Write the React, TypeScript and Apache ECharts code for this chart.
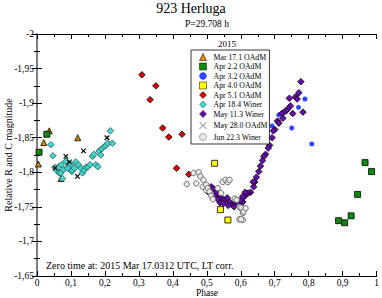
import React, { useEffect, useRef } from "react";
import * as echarts from "echarts";

const mar17 = [[0.004,-1.812],[0.02,-1.843],[0.036,-1.86],[0.12,-1.85],[0.071,-1.791],[0.089,-1.808]];
const apr2 = [[0.029,-1.855],[0.006,-1.829],[0.966,-1.814],[0.985,-1.801],[0.944,-1.768],[0.925,-1.737],[0.906,-1.727],[0.888,-1.73]];
const apr3 = [[0.789,-1.906],[0.77,-1.894],[0.712,-1.883],[0.692,-1.867],[0.75,-1.864],[0.809,-1.841]];
const apr4 = [[0.523,-1.813],[0.54,-1.746],[0.562,-1.731]];
const apr5 = [[0.309,-1.941],[0.35,-1.925],[0.333,-1.905],[0.37,-1.864],[0.388,-1.851],[0.427,-1.855],[0.411,-1.806],[0.447,-1.797]];
const apr18 = [[0.041,-1.84],[0.047,-1.824],[0.053,-1.807],[0.058,-1.803],[0.063,-1.808],[0.065,-1.799],[0.07,-1.799],[0.072,-1.811],[0.075,-1.791],[0.079,-1.804],[0.085,-1.816],[0.09,-1.806],[0.099,-1.812],[0.102,-1.801],[0.104,-1.803],[0.11,-1.806],[0.114,-1.815],[0.122,-1.811],[0.129,-1.806],[0.134,-1.799],[0.139,-1.803],[0.144,-1.807],[0.15,-1.808],[0.156,-1.811],[0.163,-1.823],[0.168,-1.826],[0.173,-1.811],[0.179,-1.808],[0.183,-1.831],[0.188,-1.825],[0.191,-1.834],[0.198,-1.837],[0.203,-1.839],[0.208,-1.842],[0.216,-1.86],[0.222,-1.842]];
const may11 = [[0.777,-1.931],[0.771,-1.915],[0.761,-1.909],[0.766,-1.906],[0.783,-1.887],[0.743,-1.907],[0.746,-1.896],[0.753,-1.885],[0.739,-1.892],[0.734,-1.889],[0.727,-1.887],[0.721,-1.885],[0.724,-1.878],[0.708,-1.874],[0.712,-1.871],[0.7,-1.862],[0.696,-1.86],[0.692,-1.85],[0.685,-1.839],[0.681,-1.835],[0.673,-1.826],[0.668,-1.823],[0.664,-1.817],[0.658,-1.809],[0.653,-1.801],[0.646,-1.793],[0.641,-1.786],[0.636,-1.786],[0.638,-1.779],[0.629,-1.771],[0.622,-1.77],[0.616,-1.769],[0.611,-1.765],[0.606,-1.757],[0.599,-1.751],[0.503,-1.772],[0.513,-1.779],[0.52,-1.776],[0.529,-1.77],[0.537,-1.766],[0.545,-1.762],[0.553,-1.76],[0.56,-1.763],[0.567,-1.757],[0.575,-1.753],[0.583,-1.754],[0.591,-1.754],[0.6,-1.76],[0.606,-1.765],[0.613,-1.771],[0.524,-1.765],[0.532,-1.761],[0.539,-1.756],[0.549,-1.755],[0.563,-1.752],[0.58,-1.75]];
const may28 = [[0.053,-1.806],[0.085,-1.823],[0.095,-1.815],[0.119,-1.794],[0.137,-1.831],[0.206,-1.85]];
const jun22 = [[0.441,-1.783],[0.461,-1.799],[0.476,-1.8],[0.481,-1.794],[0.469,-1.784],[0.49,-1.789],[0.488,-1.779],[0.498,-1.782],[0.498,-1.774],[0.503,-1.777],[0.508,-1.772],[0.513,-1.766],[0.518,-1.761],[0.532,-1.777],[0.542,-1.77],[0.547,-1.786],[0.555,-1.789],[0.562,-1.786],[0.567,-1.789],[0.582,-1.762],[0.588,-1.76],[0.596,-1.75],[0.604,-1.746],[0.606,-1.741],[0.596,-1.732],[0.606,-1.731],[0.601,-1.749],[0.608,-1.743],[0.601,-1.732],[0.614,-1.748]];

const xTicks = [0, 0.1, 0.2, 0.3, 0.4, 0.5, 0.6, 0.7, 0.8, 0.9, 1];
const yTicks = [-2, -1.95, -1.9, -1.85, -1.8, -1.75, -1.7, -1.65];

const FONT = "Liberation Serif";
const fmt = (v: number) => String(parseFloat(v.toFixed(3))).replace(".", ",");

export default function App() {
  const ref = useRef<HTMLDivElement>(null);
  useEffect(() => {
    const chart = echarts.init(ref.current!, null, { renderer: "svg" });
    const mk = (name: string, data: number[][], symbol: string, size: number, color: string, border: string, bw = 0.8) => ({
      name, type: "scatter", data, symbol, symbolSize: size, xAxisIndex: 0, yAxisIndex: 0,
      itemStyle: { color, borderColor: border, borderWidth: bw, opacity: 1 },
    });
    const xBase = {
      type: "value", min: xTicks[0], max: xTicks[xTicks.length - 1], interval: 0.1,
      splitLine: { show: false },
      axisTick: { inside: true, length: 5, lineStyle: { color: "#000" } },
      minorTick: { show: true, splitNumber: 2, length: 3, lineStyle: { color: "#000" } },
      axisLine: { lineStyle: { color: "#000", width: 1 } },
    };
    const yBase = {
      type: "value", inverse: true, min: yTicks[0], max: yTicks[yTicks.length - 1], interval: 0.05,
      splitLine: { show: false },
      axisTick: { inside: true, length: 5, lineStyle: { color: "#000" } },
      minorTick: { show: true, splitNumber: 2, length: 3, lineStyle: { color: "#000" } },
      axisLine: { lineStyle: { color: "#777", width: 1.5 } },
    };
    chart.setOption({
      animation: false,
      grid: { left: 37, right: 5, top: 34, bottom: 22 },
      xAxis: [
        { ...xBase, position: "bottom", axisLabel: { fontFamily: FONT, fontSize: 9.5, color: "#000", margin: 2, formatter: fmt } },
        { ...xBase, position: "top", axisLabel: { show: false } },
      ],
      yAxis: [
        { ...yBase, position: "left", axisLabel: { fontFamily: FONT, fontSize: 9.5, color: "#000", margin: 3, formatter: fmt } },
        { ...yBase, position: "right", axisLabel: { show: false } },
      ],
      legend: {
        orient: "vertical", left: 191, top: 50,
        padding: [3, 2, 3, 6],
        borderColor: "#000", borderWidth: 0.8, backgroundColor: "#fff",
        itemWidth: 7, itemHeight: 7, itemGap: 1.5,
        itemStyle: { borderWidth: 0.5 },
        textStyle: { fontFamily: FONT, fontSize: 7.8, color: "#000", lineHeight: 8, padding: [0, 0, 0, 2] },
      },
      graphic: [
        { type: "text", left: "center", top: 1, style: { text: "923 Herluga", font: `14px '${FONT}'`, fill: "#000" }, z: 10 },
        { type: "text", x: 207, y: 24, style: { text: "P=29.708 h", font: `9.5px '${FONT}'`, fill: "#000", align: "center", verticalAlign: "middle" } },
        { type: "text", x: 227, y: 44, style: { text: "2015", font: `9px '${FONT}'`, fill: "#000", align: "center", verticalAlign: "middle" } },
        { type: "text", x: 46, y: 265, style: { text: "Zero time at: 2015 Mar 17.0312 UTC, LT corr.", font: `10px '${FONT}'`, fill: "#000", verticalAlign: "middle" } },
        { type: "text", x: 207, y: 292.5, style: { text: "Phase", font: `9.5px '${FONT}'`, fill: "#000", align: "center", verticalAlign: "middle" } },
        { type: "text", x: 8, y: 155, rotation: Math.PI / 2, style: { text: "Relative R and C magnitude", font: `10px '${FONT}'`, fill: "#000", align: "center", verticalAlign: "middle" } },
      ],
      series: [
        mk("Mar 17.1 OAdM", mar17, "triangle", 6, "#d98a00", "#000"),
        mk("Apr 2.2 OAdM", apr2, "rect", 6, "#0c8a0c", "#000"),
        mk("Apr 3.2 OAdM", apr3, "circle", 5, "#2a44ff", "#2a44ff", 0),
        mk("Apr 4.0 OAdM", apr4, "rect", 6, "#ffff00", "#000"),
        mk("Apr 5.1 OAdM", apr5, "diamond", 6.5, "#e00000", "#000"),
        mk("Apr 18.4 Winer", apr18, "diamond", 6.5, "#3fd6cc", "#2a5a5a"),
        mk("May 11.3 Winer", may11, "diamond", 6.5, "#6a0dad", "#000"),
        mk("May 28.0 OAdM", may28, "path://M0,0L10,10M10,0L0,10", 4.5, "none", "#000", 1.2),
        mk("Jun 22.3 Winer", jun22, "circle", 5.5, "#e8e8e8", "#555"),
      ],
    });
    return () => chart.dispose();
  }, []);
  return <div ref={ref} style={{ width: 382, height: 298, position: "absolute", left: 0, top: 0 }} />;
}
